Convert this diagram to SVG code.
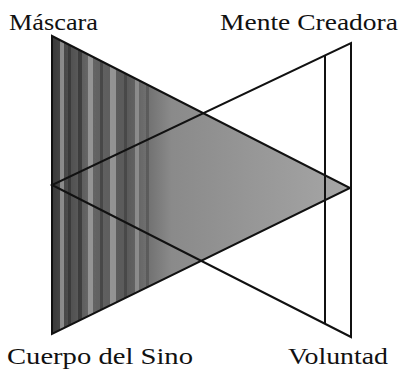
<svg xmlns="http://www.w3.org/2000/svg" width="403" height="373" viewBox="0 0 403 373">
<style>
.lbl{font-family:"Liberation Serif","Times New Roman",serif;font-size:23px;fill:#111}
.edge{fill:none;stroke:#111;stroke-width:2;stroke-linejoin:miter}
</style>
<defs>
<linearGradient id="shade" x1="52" y1="0" x2="350" y2="0" gradientUnits="userSpaceOnUse">
<stop offset="0" stop-color="#3a3a3a"/>
<stop offset="0.12" stop-color="#666"/>
<stop offset="0.25" stop-color="#5a5a5a"/>
<stop offset="0.4" stop-color="#8a8a8a"/>
<stop offset="1" stop-color="#a6a6a6"/>
</linearGradient>
<clipPath id="tri"><polygon points="52,36 350,188 52,334"/></clipPath>
</defs>
<rect width="403" height="373" fill="#fff"/>
<g id="mascara-triangle">
<polygon points="52,36 350,188 52,334" fill="url(#shade)"/>
<g clip-path="url(#tri)" opacity="0.45">
<rect x="60" y="30" width="4" height="310" fill="#ddd"/>
<rect x="68" y="30" width="3" height="310" fill="#222"/>
<rect x="78" y="30" width="4" height="310" fill="#1a1a1a"/>
<rect x="88" y="30" width="5" height="310" fill="#cfcfcf"/>
<rect x="100" y="30" width="3" height="310" fill="#2a2a2a"/>
<rect x="110" y="30" width="6" height="310" fill="#d5d5d5"/>
<rect x="124" y="30" width="3" height="310" fill="#333"/>
<rect x="135" y="30" width="4" height="310" fill="#bbb"/>
<rect x="146" y="30" width="3" height="310" fill="#444"/>
</g>
<polygon class="edge" points="52,36 350,188 52,334"/>
</g>
<g id="voluntad-triangle">
<polygon class="edge" points="351,43 351,337 52,185"/>
<line class="edge" x1="325" y1="55" x2="325" y2="324"/>
</g>
<g id="labels">
<text class="lbl" x="9" y="30" textLength="89" lengthAdjust="spacingAndGlyphs">Máscara</text>
<text class="lbl" x="220" y="30" textLength="178" lengthAdjust="spacingAndGlyphs">Mente Creadora</text>
<text class="lbl" x="7" y="364" textLength="186" lengthAdjust="spacingAndGlyphs">Cuerpo del Sino</text>
<text class="lbl" x="288" y="364" textLength="100" lengthAdjust="spacingAndGlyphs">Voluntad</text>
</g>
</svg>
